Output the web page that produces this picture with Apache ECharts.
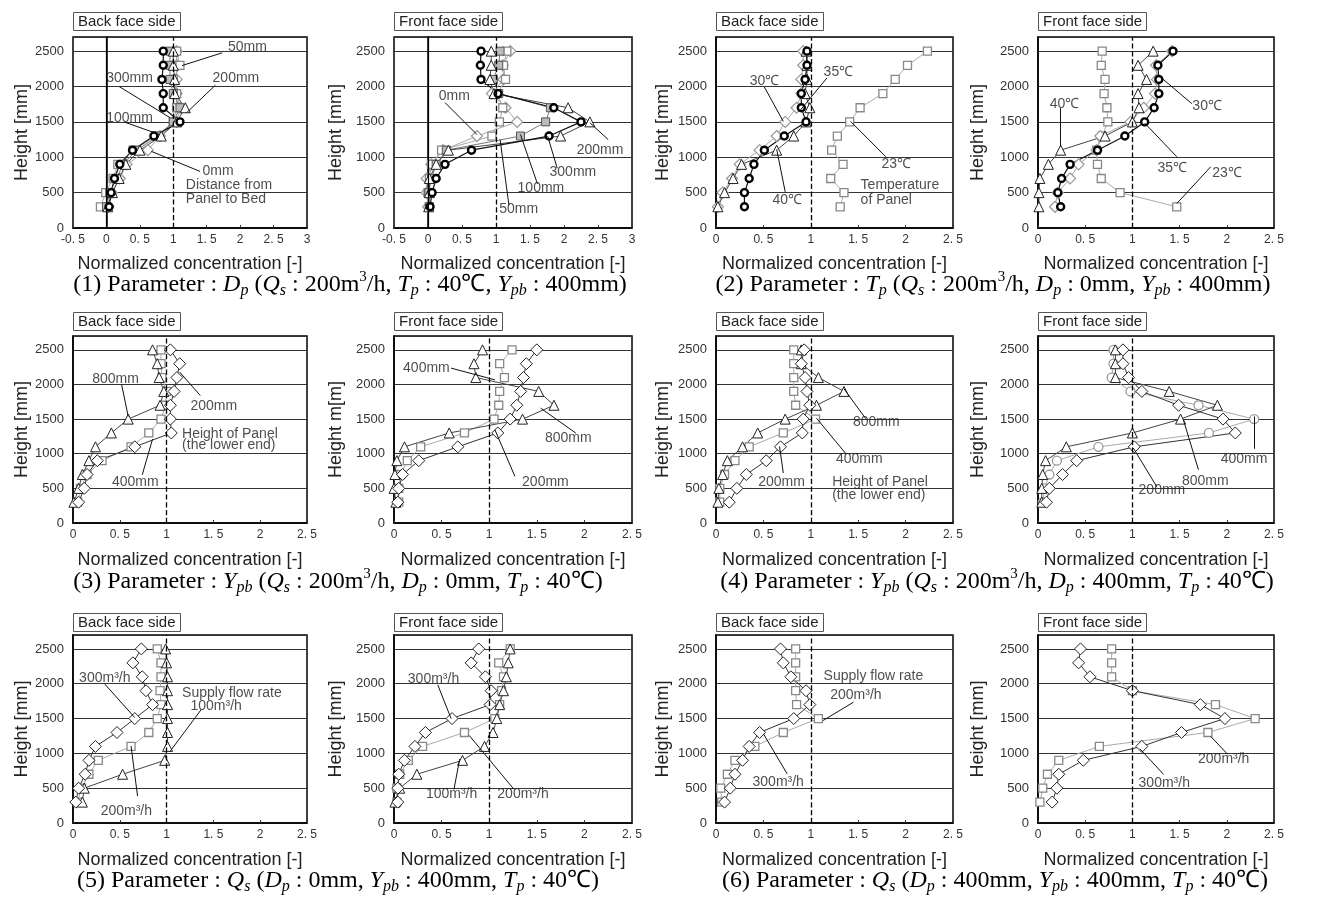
<!DOCTYPE html>
<html><head><meta charset="utf-8">
<script src="https://cdn.jsdelivr.net/npm/echarts@6/dist/echarts.min.js"></script>
<style>html,body{margin:0;padding:0;background:#fff}#c{width:1319px;height:897px}</style>
</head><body><div id="c"></div>
<script>
// ---------- DATA ----------
const heights = [300,500,700,900,1100,1300,1500,1700,1900,2100,2300,2500];
const xTicksWide = ['-0. 5','0','0. 5','1','1. 5','2','2. 5','3'];
const xTicksNarrow = ['0','0. 5','1','1. 5','2','2. 5'];
const yTicks = ['0','500','1000','1500','2000','2500'];

// (1) Dp, back / front
const p1_0mm   = [0.03,0.08,0.20,0.30,0.62,0.80,1.05,1.10,1.05,1.05,1.05,1.05];
const p1_50mm  = [-0.09,-0.01,0.10,0.17,0.40,0.75,1.00,1.05,1.05,1.00,1.10,1.05];
const p1_100mm = [0.00,0.05,0.15,0.25,0.45,0.78,1.00,1.10,1.00,0.95,0.95,0.95];
const p1_200mm = [0.02,0.09,0.19,0.29,0.50,0.82,1.05,1.18,1.02,1.02,1.00,1.00];
const p1_300mm = [0.04,0.07,0.12,0.20,0.39,0.71,1.10,0.85,0.85,0.83,0.85,0.85];
const p2_0mm   = [0.00,-0.02,-0.02,0.05,0.22,0.72,1.31,1.14,0.94,1.11,1.10,1.21];
const p2_50mm  = [0.02,0.00,0.02,0.05,0.20,0.94,1.05,1.10,1.02,1.14,1.11,1.16];
const p2_100mm = [0.02,0.01,0.05,0.12,0.27,1.36,1.73,1.80,1.04,0.96,1.04,1.06];
const p2_200mm = [0.01,0.02,0.02,0.12,0.30,1.95,2.38,2.06,0.97,0.91,0.93,0.93];
const p2_300mm = [0.03,0.06,0.12,0.25,0.64,1.78,2.25,1.85,1.03,0.78,0.77,0.78];
// (2) Tp
const p3_23 = [1.31,1.35,1.21,1.34,1.22,1.28,1.41,1.52,1.76,1.89,2.02,2.23];
const p3_30 = [0.30,0.30,0.35,0.40,0.51,0.72,0.95,0.90,0.90,0.94,0.96,0.96];
const p3_35 = [0.02,0.07,0.17,0.25,0.46,0.64,0.73,0.85,0.90,0.90,0.92,0.92];
const p3_40 = [0.02,0.09,0.18,0.27,0.64,0.82,0.95,0.99,0.94,0.96,0.96,0.95];
const p4_23 = [1.47,0.87,0.67,0.63,0.62,0.68,0.74,0.73,0.70,0.71,0.67,0.68];
const p4_30 = [0.24,0.21,0.25,0.34,0.63,0.92,1.13,1.23,1.28,1.28,1.27,1.43];
const p4_35 = [0.18,0.21,0.34,0.43,0.62,0.66,0.98,1.12,1.24,1.26,1.25,1.42];
const p4_40 = [0.01,0.01,0.02,0.11,0.24,0.71,1.00,1.07,1.06,1.15,1.06,1.22];
// (3) Ypb, Dp 0mm
const p5_200 = [0.06,0.12,0.15,0.26,0.66,1.05,1.04,1.04,1.08,1.11,1.14,1.04];
const p5_400 = [0.05,0.08,0.15,0.31,0.62,0.81,0.94,0.99,1.00,0.95,0.94,0.94];
const p5_800 = [0.01,0.06,0.10,0.17,0.24,0.41,0.59,0.93,0.97,0.92,0.90,0.85];
const p6_200 = [0.04,0.05,0.09,0.26,0.67,1.09,1.22,1.29,1.33,1.36,1.39,1.50];
const p6_400 = [0.05,0.05,0.07,0.14,0.28,0.74,1.05,1.10,1.11,1.16,1.11,1.24];
const p6_800 = [0.02,0.00,0.01,0.03,0.11,0.58,1.35,1.68,1.52,0.86,0.84,0.93];
// (4) Ypb, Dp 400mm
const p7_200 = [0.14,0.22,0.32,0.53,0.68,0.91,0.92,0.99,0.96,0.94,0.90,0.93];
const p7_400 = [0.04,0.04,0.09,0.20,0.35,0.71,1.05,0.84,0.82,0.82,0.82,0.82];
const p7_800 = [0.02,0.03,0.07,0.12,0.28,0.44,0.73,1.06,1.35,1.08,0.90,0.90];
const p8_200 = [0.09,0.12,0.26,0.41,1.02,2.09,1.96,1.49,1.10,0.96,0.90,0.90];
const p8_400 = [0.05,0.07,0.12,0.20,0.64,1.81,2.29,1.70,0.98,0.78,0.80,0.80];
const p8_800 = [0.04,0.04,0.05,0.08,0.30,1.00,1.51,1.90,1.39,0.82,0.82,0.82];
// (5) Qs, Dp 0mm
const p9_100 = [0.10,0.12,0.53,0.98,1.01,1.01,1.01,1.01,1.01,1.01,1.00,0.99];
const p9_200 = [0.05,0.09,0.17,0.27,0.62,0.81,0.90,0.94,0.93,0.94,0.94,0.90];
const p9_300 = [0.03,0.06,0.13,0.17,0.24,0.47,0.66,0.85,0.78,0.74,0.64,0.73];
const p10_100 = [0.01,0.06,0.24,0.72,0.95,1.04,1.08,1.11,1.15,1.18,1.20,1.22];
const p10_200 = [0.03,0.03,0.06,0.15,0.30,0.74,1.06,1.11,1.13,1.15,1.10,1.22];
const p10_300 = [0.04,0.04,0.05,0.11,0.22,0.33,0.61,1.01,1.02,0.96,0.81,0.89];
// (6) Qs, Dp 400mm
const p11_200 = [0.06,0.05,0.12,0.20,0.41,0.71,1.08,0.85,0.84,0.84,0.84,0.84];
const p11_300 = [0.09,0.15,0.20,0.28,0.35,0.46,0.82,0.99,0.95,0.79,0.71,0.68];
const p12_200 = [0.02,0.05,0.10,0.22,0.65,1.80,2.30,1.88,1.00,0.78,0.78,0.78];
const p12_300 = [0.15,0.20,0.22,0.48,1.10,1.52,1.98,1.72,1.00,0.55,0.43,0.45];

// annotations: [text, x, y] in data units; leaders: [x1,y1,x2,y2]
const p1_notes = [['50mm',1.81,2557],['200mm',1.58,2115],['300mm',-0.01,2115],['100mm',-0.01,1560],['0mm',1.43,800],['Distance from',1.18,610],['Panel to Bed',1.18,410]];
const p1_leaders = [[1.73,2476,1.13,2296],[1.63,2020,1.2,1630],[0.19,2000,0.95,1560],[0.27,1497,0.8,1320],[1.4,800,0.67,1084]];
const p2_notes = [['0mm',0.15,1858],['200mm',2.18,1107],['300mm',1.78,789],['100mm',1.31,560],['50mm',1.04,261]];
const p2_leaders = [[0.25,1773,0.72,1321],[2.65,1250,2.38,1488],[1.9,846,1.76,1298],[1.61,623,1.36,1321],[1.19,323,1.06,1250]];
const p3_notes = [['35℃',1.13,2202],['30℃',0.35,2074],['23℃',1.74,904],['Temperature',1.52,606],['of Panel',1.52,393],['40℃',0.59,393]];
const p3_leaders = [[1.17,2121,0.88,1650],[0.51,1993,0.71,1506],[1.79,1008,1.42,1506],[0.73,511,0.64,1113]];
const p4_notes = [['40℃',0.12,1757],['30℃',1.63,1728],['35℃',1.26,843],['23℃',1.84,772]];
const p4_leaders = [[0.24,1695,0.24,1150],[1.63,1757,1.28,2154],[1.47,1008,1.13,1482],[1.83,866,1.47,346]];
const p5_notes = [['800mm',0.2,2082],['200mm',1.25,1683],['Height of Panel',1.16,1288],['(the lower end)',1.16,1120],['400mm',0.41,596]];
const p5_leaders = [[0.52,1995,0.59,1538],[1.36,1841,1.14,2178],[0.74,697,0.85,1212]];
const p6_notes = [['400mm',0.09,2236],['800mm',1.58,1226],['200mm',1.34,587]];
const p6_leaders = [[0.6,2236,1.06,2067],[1.91,1298,1.54,1659],[1.27,673,1.06,1346]];
const p7_notes = [['800mm',1.44,1457],['400mm',1.26,918],['200mm',0.44,587],['Height of Panel',1.22,587],['(the lower end)',1.22,409]];
const p7_leaders = [[1.58,1505,1.35,1938],[1.37,1000,1.06,1514],[0.71,721,0.67,1105]];
const p8_notes = [['400mm',1.93,918],['800mm',1.52,601],['200mm',1.06,481]];
const p8_leaders = [[2.29,1072,2.29,1538],[1.7,769,1.54,1490],[1.26,519,1.01,1082]];
const p9_notes = [['300m³/h',0.06,2082],['Supply flow rate',1.16,1865],['100m³/h',1.25,1683],['200m³/h',0.29,168]];
const p9_leaders = [[0.34,1995,0.66,1514],[1.37,1630,1.04,1034],[0.69,385,0.62,1106]];
const p10_notes = [['300m³/h',0.14,2070],['100m³/h',0.33,421],['200m³/h',1.08,421]];
const p10_leaders = [[0.46,1983,0.6,1499],[0.63,484,0.69,919],[1.26,484,0.79,1257]];
const p11_notes = [['Supply flow rate',1.13,2103],['200m³/h',1.2,1840],['300m³/h',0.38,588]];
const p11_leaders = [[1.45,1735,1.13,1472],[0.75,707,0.5,1281]];
const p12_notes = [['200m³/h',1.69,922],['300m³/h',1.06,574]];
const p12_leaders = [[2.01,985,1.83,1243],[1.33,698,1.08,1066]];

const captions = [
 '(1) Parameter : {i|D}{s|p} ({i|Q}{s|s} : 200m{u|3}/h, {i|T}{s|p} : 40℃, {i|Y}{s|pb} : 400mm)',
 '(2) Parameter : {i|T}{s|p} ({i|Q}{s|s} : 200m{u|3}/h, {i|D}{s|p} : 0mm, {i|Y}{s|pb} : 400mm)',
 '(3) Parameter : {i|Y}{s|pb} ({i|Q}{s|s} : 200m{u|3}/h, {i|D}{s|p} : 0mm, {i|T}{s|p} : 40℃)',
 '(4) Parameter : {i|Y}{s|pb} ({i|Q}{s|s} : 200m{u|3}/h, {i|D}{s|p} : 400mm, {i|T}{s|p} : 40℃)',
 '(5) Parameter : {i|Q}{s|s} ({i|D}{s|p} : 0mm, {i|Y}{s|pb} : 400mm, {i|T}{s|p} : 40℃)',
 '(6) Parameter : {i|Q}{s|s} ({i|D}{s|p} : 400mm, {i|Y}{s|pb} : 400mm, {i|T}{s|p} : 40℃)'
];

// ---------- PANELS ----------
const B='Back face side', F='Front face side';
const panels = [
 {t:B, wide:true, yName:'Height [mm]', s:[['0mm',p1_0mm,'diamg'],['50mm',p1_50mm,'sq'],['100mm',p1_100mm,'sqd'],['200mm',p1_200mm,'tri'],['300mm',p1_300mm,'circ']], n:p1_notes, l:p1_leaders},
 {t:F, wide:true, yName:'Height [mm]', s:[['0mm',p2_0mm,'diamg'],['50mm',p2_50mm,'sq'],['100mm',p2_100mm,'sqd'],['200mm',p2_200mm,'tri'],['300mm',p2_300mm,'circ']], n:p2_notes, l:p2_leaders},
 {t:B, yName:'Height [mm]', s:[['23℃',p3_23,'sq'],['35℃',p3_35,'diamg'],['40℃',p3_40,'tri'],['30℃',p3_30,'circ']], n:p3_notes, l:p3_leaders},
 {t:F, yName:'Height [mm]', s:[['23℃',p4_23,'sq'],['35℃',p4_35,'diamg'],['40℃',p4_40,'tri'],['30℃',p4_30,'circ']], n:p4_notes, l:p4_leaders},
 {t:B, yName:'Height [mm]', s:[['400mm',p5_400,'sq'],['800mm',p5_800,'tri'],['200mm',p5_200,'diam']], n:p5_notes, l:p5_leaders},
 {t:F, yName:'Height m[m]', s:[['400mm',p6_400,'sq'],['800mm',p6_800,'tri'],['200mm',p6_200,'diam']], n:p6_notes, l:p6_leaders},
 {t:B, yName:'Height [mm]', s:[['400mm',p7_400,'sq'],['800mm',p7_800,'tri'],['200mm',p7_200,'diam']], n:p7_notes, l:p7_leaders},
 {t:F, yName:'Height [mm]', s:[['400mm',p8_400,'circg'],['800mm',p8_800,'tri'],['200mm',p8_200,'diam']], n:p8_notes, l:p8_leaders},
 {t:B, yName:'Height [mm]', s:[['200m³/h',p9_200,'sq'],['100m³/h',p9_100,'tri'],['300m³/h',p9_300,'diam']], n:p9_notes, l:p9_leaders},
 {t:F, yName:'Height [mm]', s:[['200m³/h',p10_200,'sq'],['100m³/h',p10_100,'tri'],['300m³/h',p10_300,'diam']], n:p10_notes, l:p10_leaders},
 {t:B, yName:'Height [mm]', s:[['200m³/h',p11_200,'sq'],['300m³/h',p11_300,'diam']], n:p11_notes, l:p11_leaders},
 {t:F, yName:'Height [mm]', s:[['200m³/h',p12_200,'sq'],['300m³/h',p12_300,'diam']], n:p12_notes, l:p12_leaders}
];

// ---------- LAYOUT / STYLE ----------
const SANS = '"Liberation Sans", Arial, sans-serif';
const SERIF = '"Liberation Serif", "Times New Roman", serif';
const colLeft = [73, 394, 716, 1038], colW = [234, 238, 237, 236];
const rowTop = [37, 336, 635], rowH = [191, 187, 188];
const titleTop = [12, 312, 613];
const yGap = [41, 49, 44, 51];
const capX = [350, 993, 338, 997, 338, 995], capY = [285, 582, 881];
const styles = {
 circ:  {symbol:'circle', size:7, fill:'#fff', stroke:'#000', bw:2.4, line:'#111', lw:1.2},
 diam:  {symbol:'diamond', size:12, fill:'#fff', stroke:'#222', bw:1, line:'#333', lw:1},
 diamg: {symbol:'diamond', size:11, fill:'#fff', stroke:'#999', bw:1.2, line:'#aaa', lw:1},
 tri:   {symbol:'triangle', size:10, fill:'#fff', stroke:'#222', bw:1, line:'#444', lw:1},
 sq:    {symbol:'rect', size:8, fill:'#fff', stroke:'#888', bw:1.3, line:'#aaa', lw:1},
 sqd:   {symbol:'rect', size:8, fill:'#bbb', stroke:'#555', bw:1, line:'#777', lw:1},
 circg: {symbol:'circle', size:9, fill:'#fff', stroke:'#999', bw:1.3, line:'#aaa', lw:1}
};

const grid=[], xAxis=[], yAxis=[], series=[], title=[], graphic=[];
panels.forEach((p,i)=>{
  const col=i%4, row=Math.floor(i/4);
  const xMin = p.wide ? -0.5 : 0, xMax = p.wide ? 3 : 2.5;
  const ticks = p.wide ? xTicksWide : xTicksNarrow;
  grid.push({left:colLeft[col], top:rowTop[row], width:colW[col], height:rowH[row],
    show:true, borderColor:'#000', borderWidth:1.5, backgroundColor:'#fff'});
  title.push({text:p.t, left:colLeft[col], top:titleTop[row], padding:[2,5,2,5],
    borderWidth:1, borderColor:'#555',
    textStyle:{fontSize:15, fontWeight:'normal', fontFamily:SANS, color:'#222'}});
  xAxis.push({gridIndex:i, type:'value', min:xMin, max:xMax, interval:0.5,
    name:'Normalized concentration [-]', nameLocation:'middle', nameGap: row===0?27:28,
    nameTextStyle:{fontSize:18, fontFamily:SANS, color:'#222'},
    axisLine:{show:true, onZero:false, lineStyle:{color:'#000', width:1.5}},
    axisTick:{show:true, inside:true, length:3, lineStyle:{color:'#333'}},
    axisLabel:{fontSize:12, fontFamily:SANS, color:'#333', margin:6,
      formatter:v=>ticks[Math.round((v-xMin)/0.5)] ?? ''},
    splitLine:{show:false}});
  yAxis.push({gridIndex:i, type:'value', min:0, max:2700, interval:500,
    name:p.yName, nameLocation:'middle', nameGap:yGap[col], nameRotate:90,
    nameTextStyle:{fontSize:18, fontFamily:SANS, color:'#222'},
    axisLine:{show:true, lineStyle:{color:'#000', width:1.5}},
    axisTick:{show:false},
    axisLabel:{fontSize:13, fontFamily:SANS, color:'#333', margin:9, showMaxLabel:false,
      formatter:v=>yTicks[Math.round(v/500)] ?? ''},
    splitLine:{show:true, lineStyle:{color:'#333', width:1.2}}});
  const guide = [{xAxis:1, lineStyle:{type:'dashed', color:'#000', width:1.3}}];
  if (p.wide) guide.push({xAxis:0, lineStyle:{type:'solid', color:'#000', width:1.2}});
  series.push({type:'scatter', xAxisIndex:i, yAxisIndex:i, data:[], silent:true,
    markLine:{silent:true, symbol:['none','none'], label:{show:false}, data:guide}});
  p.s.forEach(([name, vals, key])=>{
    const st = styles[key];
    series.push({type:'line', name, xAxisIndex:i, yAxisIndex:i,
      data: heights.map((h,k)=>[vals[k], h]),
      symbol:st.symbol, symbolSize:st.size, showSymbol:true,
      itemStyle:{color:st.fill, borderColor:st.stroke, borderWidth:st.bw},
      lineStyle:{color:st.line, width:st.lw}});
  });
  series.push({type:'scatter', xAxisIndex:i, yAxisIndex:i, silent:true,
    symbolSize:1, itemStyle:{color:'rgba(0,0,0,0)'},
    data:p.n.map(n=>({name:n[0], value:[n[1], n[2]]})),
    label:{show:true, position:'right', distance:0, formatter:'{b}',
      fontSize:14, fontFamily:SANS, color:'#222'},
    markLine:{silent:true, symbol:['none','none'], label:{show:false},
      lineStyle:{type:'solid', color:'#111', width:1},
      data:p.l.map(L=>[{coord:[L[0],L[1]]},{coord:[L[2],L[3]]}])}});
});
captions.forEach((c,k)=>{
  graphic.push({type:'text', x:capX[k], y:capY[Math.floor(k/2)], style:{
    text:c, align:'center', verticalAlign:'middle', fill:'#000',
    fontSize:24, fontFamily:SERIF,
    rich:{
      i:{fontSize:24, fontStyle:'italic', fontFamily:SERIF, fill:'#000'},
      s:{fontSize:16, fontStyle:'italic', fontFamily:SERIF, fill:'#000', padding:[11,0,0,0]},
      u:{fontSize:15, fontFamily:SERIF, fill:'#000', padding:[0,0,15,0]}
    }}});
});

const chart = echarts.init(document.getElementById('c'), null, {renderer:'canvas'});
chart.setOption({animation:false, backgroundColor:'#fff', title, grid, xAxis, yAxis, series, graphic});
</script></body></html>
